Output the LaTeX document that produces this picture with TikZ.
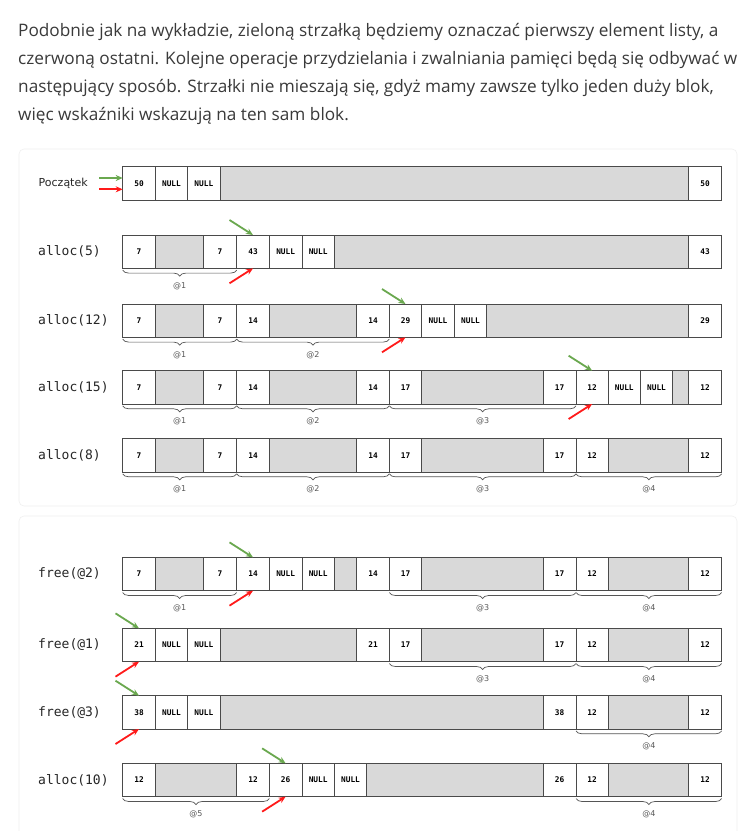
\documentclass[tikz,border=0pt]{standalone}
\usepackage{fontspec}
\setmainfont{Open Sans}
\newfontfamily\labsans{DejaVu Sans}
\newfontfamily\labmono{DejaVu Sans Mono}
\newfontfamily\cellmono{DejaVu Sans Mono}
\usetikzlibrary{arrows.meta,calc,decorations.pathreplacing}
\definecolor{txtcol}{HTML}{3A3A3A}
\definecolor{cellgray}{HTML}{D9D9D9}
\definecolor{celldraw}{HTML}{4A4A4A}
\definecolor{arrgreen}{HTML}{6AA84F}
\definecolor{arrred}{HTML}{FF1A1A}
\definecolor{bracecol}{HTML}{555555}
\definecolor{panelline}{HTML}{F0F0F0}
\tikzset{
  cellbox/.style={draw=celldraw, line width=0.9pt, fill=white, inner sep=0pt, outer sep=0pt,
    minimum height=33.3pt, font=\cellmono\bfseries\fontsize{7.8}{9}\selectfont, text=black},
  rowlabel/.style={anchor=west, inner sep=0pt, font=\labmono\fontsize{13}{15}\selectfont, text=black!85},
  bracestyle/.style={draw=bracecol, line width=0.7pt, decorate, decoration={brace, amplitude=6pt}},
  bracelbl/.style={inner sep=0pt, font=\labsans\fontsize{8}{9}\selectfont, text=black!65},
  garrow/.style={draw=arrgreen, line width=1.8pt, -{Stealth[length=7pt,width=6pt]}},
  rarrow/.style={draw=arrred, line width=1.8pt, -{Stealth[length=7pt,width=6pt]}},
  para/.style={anchor=base west, inner sep=0pt, text=txtcol, font=\fontsize{17.2}{22}\selectfont},
  panel/.style={draw=panelline, fill=white, line width=0.6pt, rounded corners=5pt}
}
% cell macros: name, x1, x2, text
\newcommand\cc[4]{\node[cellbox, minimum width={#3pt-#2pt}] (#1) at ({(#2+#3)/2},\yc) {#4};}
\newcommand\gc[3]{\node[cellbox, fill=cellgray, minimum width={#3pt-#2pt}] (#1) at ({(#2+#3)/2},\yc) {};}
% brace: name, x1, x2, label
\newcommand\brc[4]{\draw[bracestyle] (#3,\yb+1.8) -- (#2,\yb+1.8);
  \node[bracelbl] (#1) at ({(#2+#3)/2},\yb+17.5) {#4};}
% arrows to a cell
\newcommand\arr[1]{\coordinate (#1g) at ($(#1.north)+(-23.5,-15)$);
  \coordinate (#1r) at ($(#1.south)+(-23.5,15)$);
  \draw[garrow] (#1g) -- (#1.north);
  \draw[rarrow] (#1r) -- (#1.south);}
\begin{document}
\begin{tikzpicture}[x=1pt,y=-1pt]
\useasboundingbox (0,0) rectangle (748,831);
\fill[white] (0,0) rectangle (748,831);
% paragraph
\node[para] (p1) at (18,36.5) {Podobnie jak na wykładzie, zieloną strzałką będziemy oznaczać pierwszy element listy, a};
\node[para] (p2) at (18,64.5) {czerwoną ostatni. Kolejne operacje przydzielania i zwalniania pamięci będą się odbywać w};
\node[para] (p3) at (18,92.5) {następujący sposób. Strzałki nie mieszają się, gdyż mamy zawsze tylko jeden duży blok,};
\node[para] (p4) at (18,120.5) {więc wskaźniki wskazują na ten sam blok.};
% panels
\draw[panel] (19,149) rectangle (737,506);
\draw[panel] (19,516) rectangle (737,845);
% columns
\def\A{122.7}\def\B{155.3}\def\C{187.7}\def\D{220}\def\E{203.3}\def\F{236.7}
\def\G{269.3}\def\H{302}\def\I{334.3}\def\J{356.7}\def\K{389.3}\def\L{421.7}
\def\M{454.3}\def\N{486.7}\def\O{543.3}\def\P{576}\def\Q{608.3}\def\R{640.3}
\def\S{672.7}\def\T{688.3}\def\U{721.7}\def\V{366.7}
% ---- Row 1: Poczatek
\def\yc{183.35}\def\yb{200}
\node[rowlabel, font=\labsans\fontsize{11}{13}\selectfont] (l1) at (38.5,\yc) {Początek};
\cc{a1}{\A}{\B}{50}\cc{a2}{\B}{\C}{NULL}\cc{a3}{\C}{\D}{NULL}\gc{a4}{\D}{\T}\cc{a5}{\T}{\U}{50}
\coordinate (sg) at (99,178);
\coordinate (sr) at (99,189.3);
\draw[garrow] (sg) -- (sg -| a1.west);
\draw[rarrow] (sr) -- (sr -| a1.west);
% ---- Row 2: alloc(5)
\def\yc{251.65}\def\yb{268.3}
\node[rowlabel] (l2) at (38,\yc) {alloc(5)};
\cc{b1}{\A}{\B}{7}\gc{b2}{\B}{\E}\cc{b3}{\E}{\F}{7}\cc{b4}{\F}{\G}{43}\cc{b5}{\G}{\H}{NULL}
\cc{b6}{\H}{\I}{NULL}\gc{b7}{\I}{\T}\cc{b8}{\T}{\U}{43}
\brc{bb1}{\A}{\F}{@1}
\arr{b4}
% ---- Row 3: alloc(12)
\def\yc{320.65}\def\yb{337.3}
\node[rowlabel] (l3) at (38,\yc) {alloc(12)};
\cc{c1}{\A}{\B}{7}\gc{c2}{\B}{\E}\cc{c3}{\E}{\F}{7}\cc{c4}{\F}{\G}{14}\gc{c5}{\G}{\J}
\cc{c6}{\J}{\K}{14}\cc{c7}{\K}{\L}{29}\cc{c8}{\L}{\M}{NULL}\cc{c9}{\M}{\N}{NULL}
\gc{c10}{\N}{\T}\cc{c11}{\T}{\U}{29}
\brc{cb1}{\A}{\F}{@1}\brc{cb2}{\F}{\K}{@2}
\arr{c7}
% ---- Row 4: alloc(15)
\def\yc{387.35}\def\yb{404}
\node[rowlabel] (l4) at (38,\yc) {alloc(15)};
\cc{d1}{\A}{\B}{7}\gc{d2}{\B}{\E}\cc{d3}{\E}{\F}{7}\cc{d4}{\F}{\G}{14}\gc{d5}{\G}{\J}
\cc{d6}{\J}{\K}{14}\cc{d7}{\K}{\L}{17}\gc{d8}{\L}{\O}\cc{d9}{\O}{\P}{17}
\cc{d10}{\P}{\Q}{12}\cc{d11}{\Q}{\R}{NULL}\cc{d12}{\R}{\S}{NULL}\gc{d13}{\S}{\T}\cc{d14}{\T}{\U}{12}
\brc{db1}{\A}{\F}{@1}\brc{db2}{\F}{\K}{@2}\brc{db3}{\K}{\P}{@3}
\arr{d10}
% ---- Row 5: alloc(8)
\def\yc{455.35}\def\yb{472}
\node[rowlabel] (l5) at (38,\yc) {alloc(8)};
\cc{e1}{\A}{\B}{7}\gc{e2}{\B}{\E}\cc{e3}{\E}{\F}{7}\cc{e4}{\F}{\G}{14}\gc{e5}{\G}{\J}
\cc{e6}{\J}{\K}{14}\cc{e7}{\K}{\L}{17}\gc{e8}{\L}{\O}\cc{e9}{\O}{\P}{17}
\cc{e10}{\P}{\Q}{12}\gc{e11}{\Q}{\T}\cc{e12}{\T}{\U}{12}
\brc{eb1}{\A}{\F}{@1}\brc{eb2}{\F}{\K}{@2}\brc{eb3}{\K}{\P}{@3}\brc{eb4}{\P}{\U}{@4}
% ---- Row 6: free(@2)
\def\yc{574}\def\yb{590.7}
\node[rowlabel] (l6) at (38,\yc) {free(@2)};
\cc{f1}{\A}{\B}{7}\gc{f2}{\B}{\E}\cc{f3}{\E}{\F}{7}\cc{f4}{\F}{\G}{14}\cc{f5}{\G}{\H}{NULL}
\cc{f6}{\H}{\I}{NULL}\gc{f7}{\I}{\J}\cc{f8}{\J}{\K}{14}\cc{f9}{\K}{\L}{17}\gc{f10}{\L}{\O}
\cc{f11}{\O}{\P}{17}\cc{f12}{\P}{\Q}{12}\gc{f13}{\Q}{\T}\cc{f14}{\T}{\U}{12}
\brc{fb1}{\A}{\F}{@1}\brc{fb3}{\K}{\P}{@3}\brc{fb4}{\P}{\U}{@4}
\arr{f4}
% ---- Row 7: free(@1)
\def\yc{645}\def\yb{661.7}
\node[rowlabel] (l7) at (38,\yc) {free(@1)};
\cc{g1}{\A}{\B}{21}\cc{g2}{\B}{\C}{NULL}\cc{g3}{\C}{\D}{NULL}\gc{g4}{\D}{\J}\cc{g5}{\J}{\K}{21}
\cc{g6}{\K}{\L}{17}\gc{g7}{\L}{\O}\cc{g8}{\O}{\P}{17}\cc{g9}{\P}{\Q}{12}\gc{g10}{\Q}{\T}\cc{g11}{\T}{\U}{12}
\brc{gb3}{\K}{\P}{@3}\brc{gb4}{\P}{\U}{@4}
\arr{g1}
% ---- Row 8: free(@3)
\def\yc{712.35}\def\yb{729}
\node[rowlabel] (l8) at (38,\yc) {free(@3)};
\cc{h1}{\A}{\B}{38}\cc{h2}{\B}{\C}{NULL}\cc{h3}{\C}{\D}{NULL}\gc{h4}{\D}{\O}\cc{h5}{\O}{\P}{38}
\cc{h6}{\P}{\Q}{12}\gc{h7}{\Q}{\T}\cc{h8}{\T}{\U}{12}
\brc{hb4}{\P}{\U}{@4}
\arr{h1}
% ---- Row 9: alloc(10)
\def\yc{780}\def\yb{796.7}
\node[rowlabel] (l9) at (38,\yc) {alloc(10)};
\cc{i1}{\A}{\B}{12}\gc{i2}{\B}{\F}\cc{i3}{\F}{\G}{12}\cc{i4}{\G}{\H}{26}\cc{i5}{\H}{\I}{NULL}
\cc{i6}{\I}{\V}{NULL}\gc{i7}{\V}{\O}\cc{i8}{\O}{\P}{26}\cc{i9}{\P}{\Q}{12}\gc{i10}{\Q}{\T}\cc{i11}{\T}{\U}{12}
\brc{ib5}{\A}{\G}{@5}\brc{ib4}{\P}{\U}{@4}
\arr{i4}
\end{tikzpicture}
\end{document}
